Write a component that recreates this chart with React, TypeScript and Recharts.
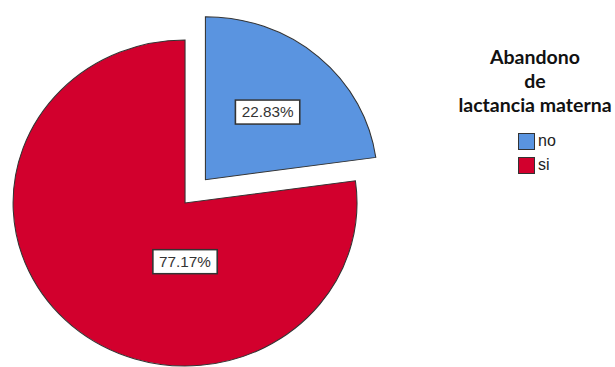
import React from 'react';
import { PieChart, Pie, Cell } from 'recharts';

// Abandono de lactancia materna (counts: 21 no / 71 si of 92)
const CATEGORIES = ['no', 'si'];
const COUNTS = [21, 71];
const COLORS = ['#5a94e0', '#d2002d'];
const LEGEND_TITLE = ['Abandono', 'de', 'lactancia materna'];

const STRETCH = 1.055; // source image is slightly wider than tall
const CX = 175.4;
const CY = 203;
const R = 163;
const EXPLODE = 31;
const RAD = Math.PI / 180;

const data = CATEGORIES.map((name, i) => ({ name, value: COUNTS[i] }));
const total = COUNTS.reduce((a, b) => a + b, 0);

// explode the first slice ("no") along its middle angle
const noMid = 90 - (360 * COUNTS[0]) / total / 2;
const noCx = CX + (EXPLODE * Math.cos(noMid * RAD)) / STRETCH;
const noCy = CY - EXPLODE * Math.sin(noMid * RAD);

const renderLabel = (show: number) => (props: any) => {
    if (props.index !== show) return null;
    const cx = props.cx ?? (show === 0 ? noCx : CX);
    const cy = props.cy ?? (show === 0 ? noCy : CY);
    const r = props.outerRadius ?? R;
    let x: number;
    let y: number;
    if (show === 0) {
        x = cx + 0.55 * r * Math.cos(props.midAngle * RAD);
        y = cy - 0.55 * r * Math.sin(props.midAngle * RAD);
    } else {
        x = cx;
        y = cy + 0.36 * r;
    }
    const w = 61;
    const h = 24;
    return (
        <g>
            <rect x={x - w / 2} y={y - h / 2} width={w} height={h} fill="#fff" stroke="#333" strokeWidth={1.5} />
            <text
                x={x}
                y={y}
                textAnchor="middle"
                dominantBaseline="central"
                fontFamily="'Liberation Sans', Arial, sans-serif"
                fontSize={14.5}
                fill="#333"
            >
                {`${((props.value / total) * 100).toFixed(2)}%`}
            </text>
        </g>
    );
};

export default function App() {
    return (
        <div style={{ position: 'absolute', left: 0, top: 0, width: 615, height: 367, background: '#fff', overflow: 'hidden' }}>
            <div style={{ position: 'absolute', left: 0, top: 0, transform: `scaleX(${STRETCH})`, transformOrigin: '0 0' }}>
                <PieChart width={420} height={367} margin={{ top: 0, right: 0, bottom: 0, left: 0 }}>
                    <Pie
                        data={data}
                        dataKey="value"
                        cx={CX}
                        cy={CY}
                        outerRadius={R}
                        startAngle={90}
                        endAngle={-270}
                        label={renderLabel(1)}
                        labelLine={false}
                        isAnimationActive={false}
                    >
                        {data.map((d, i) => (
                            <Cell
                                key={`si-${d.name}`}
                                fill={i === 1 ? COLORS[i] : 'none'}
                                stroke={i === 1 ? '#333' : 'none'}
                                strokeWidth={1}
                            />
                        ))}
                    </Pie>
                    <Pie
                        data={data}
                        dataKey="value"
                        cx={noCx}
                        cy={noCy}
                        outerRadius={R}
                        startAngle={90}
                        endAngle={-270}
                        label={renderLabel(0)}
                        labelLine={false}
                        isAnimationActive={false}
                    >
                        {data.map((d, i) => (
                            <Cell
                                key={`no-${d.name}`}
                                fill={i === 0 ? COLORS[i] : 'none'}
                                stroke={i === 0 ? '#333' : 'none'}
                                strokeWidth={1}
                            />
                        ))}
                    </Pie>
                </PieChart>
            </div>

            {/* legend */}
            <div
                style={{
                    position: 'absolute',
                    left: 455,
                    top: 45,
                    width: 160,
                    textAlign: 'center',
                    fontFamily: 'Lato, sans-serif',
                    fontWeight: 700,
                    fontSize: 19.5,
                    lineHeight: '24px',
                    color: '#111',
                    whiteSpace: 'nowrap',
                }}
            >
                {LEGEND_TITLE.map(t => (
                    <div key={t}>{t}</div>
                ))}
            </div>
            <div style={{ position: 'absolute', left: 518, top: 129, fontFamily: "'Liberation Sans', Arial, sans-serif", fontSize: 16, color: '#222' }}>
                {CATEGORIES.map((c, i) => (
                    <div key={c} style={{ display: 'flex', alignItems: 'center', height: 24 }}>
                        <span
                            style={{
                                display: 'inline-block',
                                width: 17,
                                height: 17,
                                background: COLORS[i],
                                border: '1px solid #333',
                                boxSizing: 'border-box',
                                marginRight: 3,
                            }}
                        />
                        <span>{c}</span>
                    </div>
                ))}
            </div>
        </div>
    );
}
